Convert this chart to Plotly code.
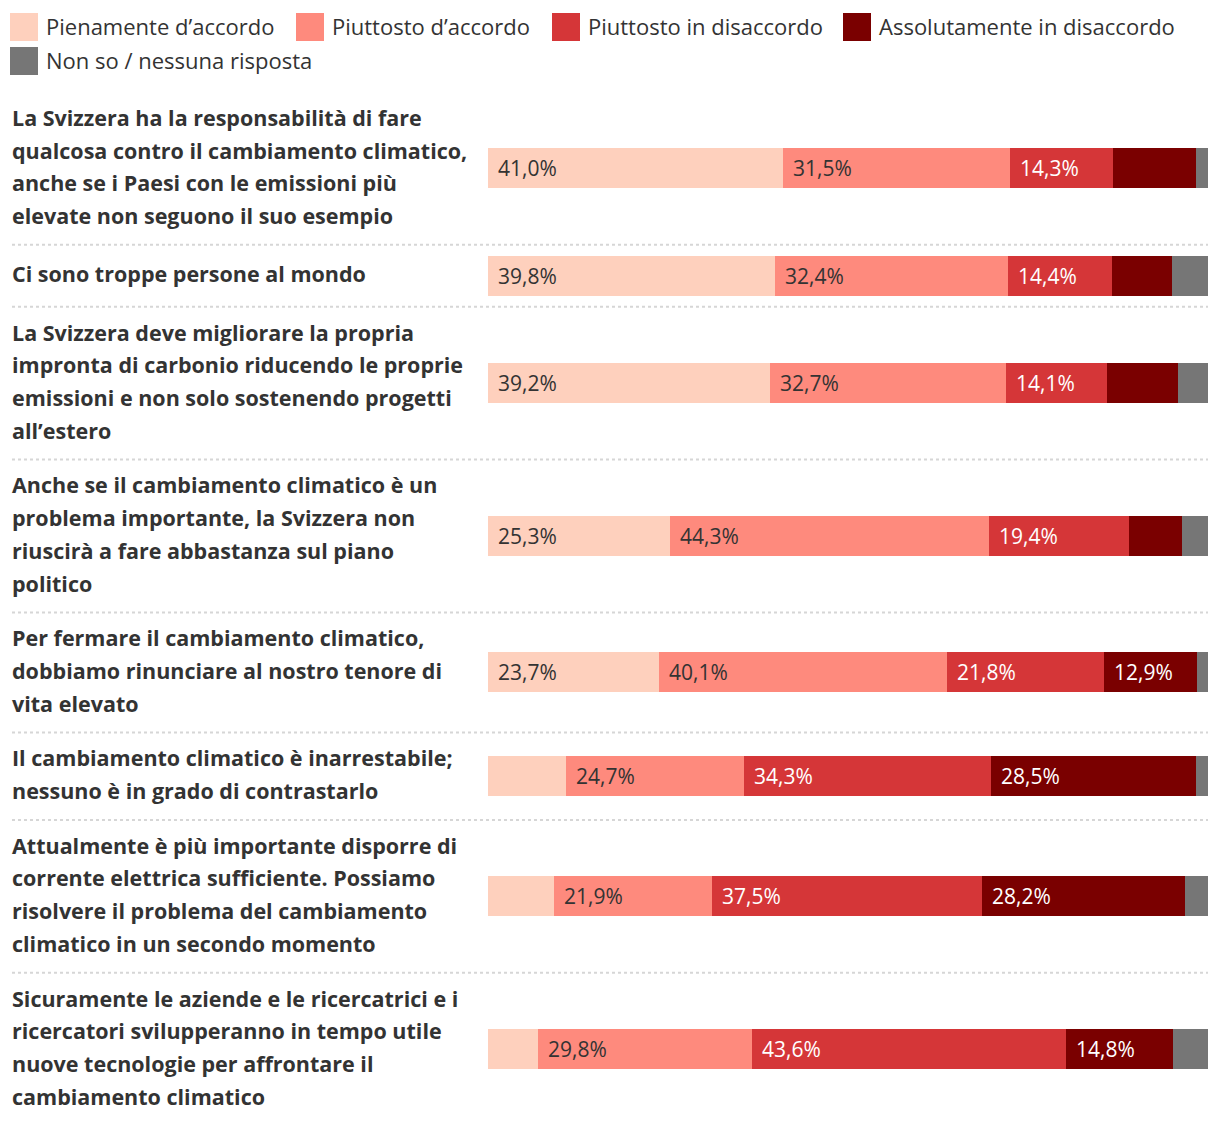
import plotly.graph_objects as go

categories = [
    "La Svizzera ha la responsabilità di fare\nqualcosa contro il cambiamento climatico,\nanche se i Paesi con le emissioni più\nelevate non seguono il suo esempio",
    "Ci sono troppe persone al mondo",
    "La Svizzera deve migliorare la propria\nimpronta di carbonio riducendo le proprie\nemissioni e non solo sostenendo progetti\nall’estero",
    "Anche se il cambiamento climatico è un\nproblema importante, la Svizzera non\nriuscirà a fare abbastanza sul piano\npolitico",
    "Per fermare il cambiamento climatico,\ndobbiamo rinunciare al nostro tenore di\nvita elevato",
    "Il cambiamento climatico è inarrestabile;\nnessuno è in grado di contrastarlo",
    "Attualmente è più importante disporre di\ncorrente elettrica sufficiente. Possiamo\nrisolvere il problema del cambiamento\nclimatico in un secondo momento",
    "Sicuramente le aziende e le ricercatrici e i\nricercatori svilupperanno in tempo utile\nnuove tecnologie per affrontare il\ncambiamento climatico",
]

series_names = [
    "Pienamente d’accordo",
    "Piuttosto d’accordo",
    "Piuttosto in disaccordo",
    "Assolutamente in disaccordo",
    "Non so / nessuna risposta",
]

pienamente_accordo = [41.0, 39.8, 39.2, 25.3, 23.7, 10.8, 9.2, 6.9]
piuttosto_accordo = [31.5, 32.4, 32.7, 44.3, 40.1, 24.7, 21.9, 29.8]
piuttosto_disaccordo = [14.3, 14.4, 14.1, 19.4, 21.8, 34.3, 37.5, 43.6]
assolutamente_disaccordo = [11.6, 8.4, 9.8, 7.4, 12.9, 28.5, 28.2, 14.8]
non_so = [1.6, 5.0, 4.2, 3.6, 1.5, 1.7, 3.2, 4.9]

series_values = [pienamente_accordo, piuttosto_accordo, piuttosto_disaccordo,
                 assolutamente_disaccordo, non_so]
colors = ["#fed0bd", "#fe8a7d", "#d53638", "#7a0000", "#767676"]
text_colors = ["#333333", "#333333", "#ffffff", "#ffffff", "#ffffff"]

# ---- layout geometry (pixels, page coordinates) ----
OFF = 8                      # page body margin
W, H = 1220 - OFF, 1126 - OFF
ML, MR, MT = 488 - OFF, 12, 92 - OFF
LINE_H = 32.7
LABEL_MIN = 12.0

lines = [c.split("\n") for c in categories]
row_h = [max(LINE_H * len(l) + 22, 62) for l in lines]
tops = []
acc = 0
for h in row_h:
    tops.append(acc)
    acc += h
centers = [t + h / 2 for t, h in zip(tops, row_h)]
plot_h = H - MT
plot_w = W - ML - MR
total = plot_h

fig = go.Figure()
for name, vals, col in zip(series_names, series_values, colors):
    fig.add_trace(go.Bar(
        y=centers, x=vals, name=name, orientation="h",
        width=40, marker=dict(color=col, line=dict(width=0)),
        hoverinfo="x+name", showlegend=False,
    ))

annotations = []
# value labels
cum = [0.0] * len(categories)
for vals, tcol in zip(series_values, text_colors):
    for i, v in enumerate(vals):
        if v >= LABEL_MIN:
            annotations.append(dict(
                x=cum[i], y=centers[i], xref="x", yref="y",
                text=f"{v:.1f}".replace(".", ",") + "%",
                showarrow=False, xanchor="left", yanchor="middle",
                xshift=8, font=dict(size=21, color=tcol, family="Open Sans"),
            ))
        cum[i] += v


def px_x(p):
    return (p - OFF - ML) / plot_w


def px_y(p):
    return 1 - (p - OFF - MT) / plot_h


# category labels
lab_x = px_x(10)
for i, ls in enumerate(lines):
    n = len(ls)
    for j, t in enumerate(ls):
        annotations.append(dict(
            x=lab_x, y=centers[i] + (j - (n - 1) / 2) * LINE_H - 2,
            xref="paper", yref="y", text=t, showarrow=False,
            xanchor="left", yanchor="middle",
            font=dict(size=21.5, color="#333333", family="Open Sans", weight=700),
        ))

shapes = []
# dotted separators
sep_x0 = px_x(12)
for i in range(len(categories) - 1):
    ysep = tops[i + 1]
    shapes.append(dict(type="line", xref="paper", yref="y",
                       x0=sep_x0, x1=1, y0=ysep, y1=ysep,
                       line=dict(color="#d6d6d6", width=2, dash="dot")))

# custom legend
legend_pos = [(10, 13), (296, 13), (552, 13), (843, 13), (10, 47)]
for (lx, ly), name, col in zip(legend_pos, series_names, colors):
    shapes.append(dict(type="rect", xref="paper", yref="paper",
                       x0=px_x(lx), x1=px_x(lx + 28), y0=px_y(ly), y1=px_y(ly + 28),
                       fillcolor=col, line=dict(width=0)))
    annotations.append(dict(
        x=px_x(lx + 34), y=px_y(ly + 13), xref="paper", yref="paper",
        text=name, showarrow=False, xanchor="left", yanchor="middle",
        font=dict(size=22, color="#333333", family="Open Sans"),
    ))

fig.update_layout(
    width=W, height=H,
    margin=dict(l=ML, r=MR, t=MT, b=0, pad=0),
    barmode="stack", bargap=0,
    paper_bgcolor="white", plot_bgcolor="white",
    xaxis=dict(range=[0, 100], visible=False, fixedrange=True),
    yaxis=dict(range=[total, 0], visible=False, fixedrange=True),
    annotations=annotations, shapes=shapes,
    separators=",.",
    font=dict(family="Open Sans", color="#333333"),
    showlegend=False,
)

fig.write_html("out.html")
